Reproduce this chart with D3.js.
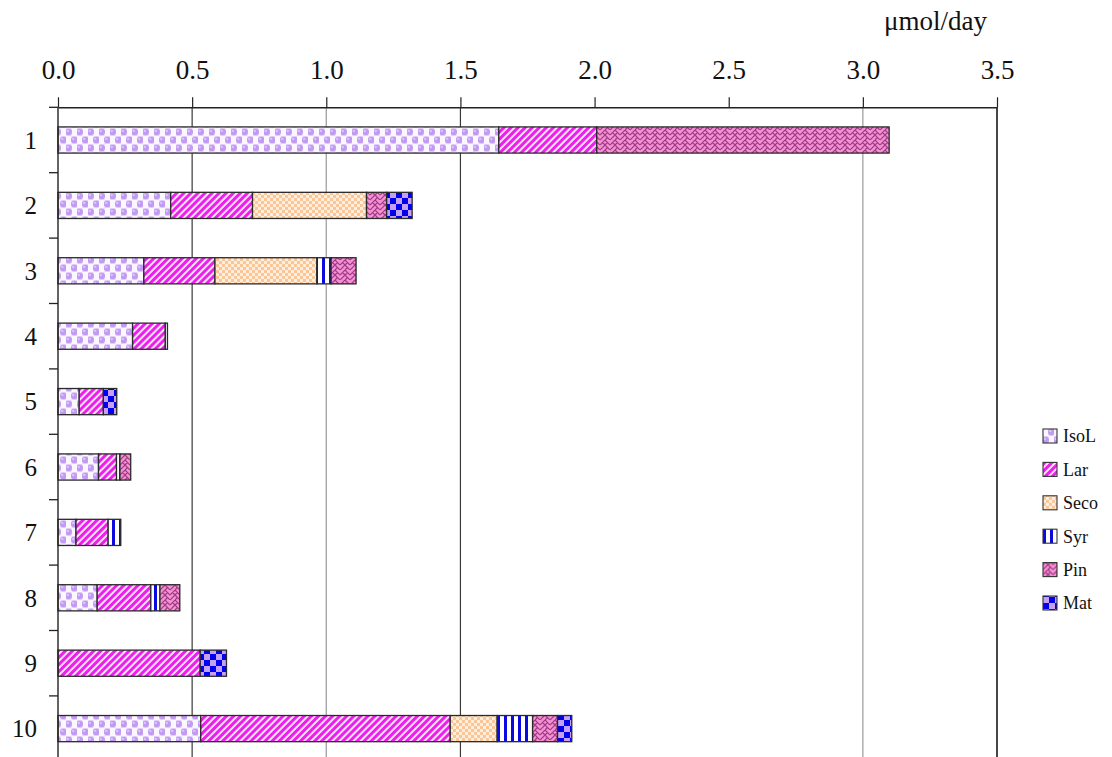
<!DOCTYPE html>
<html>
<head>
<meta charset="utf-8">
<script src="https://cdn.jsdelivr.net/npm/d3@7"></script>
<style>
  html, body { margin: 0; padding: 0; background: #fff; }
  svg { display: block; }
</style>
</head>
<body>
<svg id="chart" width="1112" height="757"></svg>
<script>
// Daily output per sample (µmol/day), one array per lignan
const samples = ["1", "2", "3", "4", "5", "6", "7", "8", "9", "10"];
const seriesNames = ["IsoL", "Lar", "Seco", "Syr", "Pin", "Mat"];
const IsoL = [1.643, 0.420, 0.320, 0.278, 0.079, 0.151, 0.067, 0.146, 0.000, 0.532];
const Lar  = [0.365, 0.305, 0.265, 0.122, 0.090, 0.067, 0.120, 0.200, 0.530, 0.930];
const Seco = [0.000, 0.425, 0.380, 0.000, 0.000, 0.000, 0.000, 0.000, 0.000, 0.175];
const Syr  = [0.000, 0.000, 0.053, 0.008, 0.000, 0.013, 0.047, 0.034, 0.000, 0.132];
const Pin  = [1.090, 0.075, 0.093, 0.000, 0.000, 0.040, 0.000, 0.074, 0.000, 0.093];
const Mat  = [0.000, 0.095, 0.000, 0.000, 0.050, 0.000, 0.000, 0.000, 0.098, 0.053];
const xTicks = [0, 0.5, 1.0, 1.5, 2.0, 2.5, 3.0, 3.5];
const gridDark = [0.5, 1.5];
const gridLight = [1.0, 3.0];
const unitLabel = "\u03bcmol/day";

const SERIF = '"Liberation Serif", "Times New Roman", "DejaVu Serif", serif';

const rows = samples.map((s, i) => ({
  sample: s, IsoL: IsoL[i], Lar: Lar[i], Seco: Seco[i], Syr: Syr[i], Pin: Pin[i], Mat: Mat[i]
}));

const svg = d3.select("#chart");
const plotLeft = 58, plotRight = 997, plotTop = 107.3, plotBottom = 761.3;

const x = d3.scaleLinear().domain([0, 3.5]).range([plotLeft, plotRight]);
const y = d3.scaleBand().domain(samples).range([plotTop, plotBottom]).paddingInner(0.6).paddingOuter(0.3);

// ---- fill patterns ----
const defs = svg.append("defs");

// IsoL: lavender pearls in a checker arrangement
const pIso = defs.append("pattern").attr("id", "p-IsoL").attr("patternUnits", "userSpaceOnUse")
  .attr("width", 11).attr("height", 16);
pIso.append("rect").attr("width", 11).attr("height", 16).attr("fill", "#fbf7ff");
[[2.75, 4], [8.25, 12]].forEach(([cx, cy]) => {
  pIso.append("rect").attr("x", cx - 2.75).attr("y", cy - 4).attr("width", 5.5).attr("height", 8).attr("fill", "#e6d5fb");
  pIso.append("circle").attr("cx", cx).attr("cy", cy).attr("r", 3.3).attr("fill", "#c29af2");
  pIso.append("circle").attr("cx", cx - 1).attr("cy", cy - 1.1).attr("r", 1.2).attr("fill", "#dcc6fa");
});

// Lar: magenta diagonal hatching
const pLar = defs.append("pattern").attr("id", "p-Lar").attr("patternUnits", "userSpaceOnUse")
  .attr("width", 5).attr("height", 5).attr("patternTransform", "rotate(45)");
pLar.append("rect").attr("width", 5).attr("height", 5).attr("fill", "#fde6fd");
pLar.append("rect").attr("width", 3).attr("height", 5).attr("fill", "#ec1fec");

// Seco: fine peach checker
const pSeco = defs.append("pattern").attr("id", "p-Seco").attr("patternUnits", "userSpaceOnUse")
  .attr("width", 6).attr("height", 6);
pSeco.append("rect").attr("width", 6).attr("height", 6).attr("fill", "#fdeedf");
pSeco.append("rect").attr("width", 3).attr("height", 3).attr("fill", "#f8c697");
pSeco.append("rect").attr("x", 3).attr("y", 3).attr("width", 3).attr("height", 3).attr("fill", "#f8c697");

// Syr: blue vertical stripes
const pSyr = defs.append("pattern").attr("id", "p-Syr").attr("patternUnits", "userSpaceOnUse")
  .attr("width", 7).attr("height", 10);
pSyr.append("rect").attr("width", 7).attr("height", 10).attr("fill", "#ffffff");
pSyr.append("rect").attr("x", 0).attr("width", 3).attr("height", 10).attr("fill", "#0a0ae0");

// Pin: pink herringbone weave
const pPin = defs.append("pattern").attr("id", "p-Pin").attr("patternUnits", "userSpaceOnUse")
  .attr("width", 10).attr("height", 10);
pPin.append("rect").attr("width", 10).attr("height", 10).attr("fill", "#f492d4");
pPin.append("path")
  .attr("d", "M0,5 L5,0 M0,10 L5,5 M-1,1 L0,0 M5,0 L10,5 M5,5 L10,10 M5,10 L6,11 M2.5,2.5 L5,5 M7.5,7.5 L5,10 M7.5,2.5 L5,5")
  .attr("stroke", "#a23a86").attr("stroke-width", 1.2).attr("fill", "none");

// Mat: blue / lavender checker
const pMat = defs.append("pattern").attr("id", "p-Mat").attr("patternUnits", "userSpaceOnUse")
  .attr("width", 12).attr("height", 12);
pMat.append("rect").attr("width", 12).attr("height", 12).attr("fill", "#c6a0f3");
pMat.append("rect").attr("width", 6).attr("height", 6).attr("fill", "#0000ee");
pMat.append("rect").attr("x", 6).attr("y", 6).attr("width", 6).attr("height", 6).attr("fill", "#0000ee");

// ---- gridlines ----
const grid = svg.append("g");
grid.selectAll("line.dark").data(gridDark).join("line").attr("class", "dark")
  .attr("x1", d => x(d)).attr("x2", d => x(d)).attr("y1", plotTop).attr("y2", plotBottom)
  .attr("stroke", "#3a3a3a").attr("stroke-width", 1.2);
grid.selectAll("line.light").data(gridLight).join("line").attr("class", "light")
  .attr("x1", d => x(d)).attr("x2", d => x(d)).attr("y1", plotTop).attr("y2", plotBottom)
  .attr("stroke", "#a8a8a8").attr("stroke-width", 1.4);

// ---- stacked bars ----
const stack = d3.stack().keys(seriesNames);
const layers = stack(rows);
svg.append("g").selectAll("g").data(layers).join("g")
  .attr("fill", d => `url(#p-${d.key})`)
  .selectAll("rect").data(d => d.filter(s => s[1] - s[0] > 0)).join("rect")
  .attr("x", d => x(d[0]))
  .attr("width", d => x(d[1]) - x(d[0]))
  .attr("y", d => y(d.data.sample))
  .attr("height", y.bandwidth())
  .attr("stroke", "#2a2a2a").attr("stroke-width", 1.3);

// ---- right frame ----
svg.append("line").attr("x1", x(3.5)).attr("x2", x(3.5)).attr("y1", plotTop).attr("y2", plotBottom)
  .attr("stroke", "#333").attr("stroke-width", 1.8);

// ---- top axis ----
const xAxis = d3.axisTop(x).tickValues(xTicks).tickFormat(d3.format(".1f"))
  .tickSize(10).tickSizeOuter(0).tickPadding(18);
const gx = svg.append("g").attr("transform", `translate(0,${plotTop})`).call(xAxis)
  .attr("font-family", null).attr("font-size", null);
gx.select(".domain").attr("stroke", "#222").attr("stroke-width", 1.4);
gx.selectAll(".tick line").attr("stroke", "#222").attr("stroke-width", 1.2);
gx.selectAll(".tick text").style("font-family", SERIF).style("font-size", "27px").attr("fill", "#111");

// ---- left axis: tick marks on band boundaries ----
const boundaries = samples.map(s => y(s) - y.step() * y.paddingOuter());
boundaries.push(plotBottom);
svg.append("line").attr("x1", plotLeft).attr("x2", plotLeft).attr("y1", plotTop).attr("y2", plotBottom)
  .attr("stroke", "#222").attr("stroke-width", 1.4);
svg.append("g").selectAll("line").data(boundaries).join("line")
  .attr("x1", plotLeft - 9).attr("x2", plotLeft).attr("y1", d => d).attr("y2", d => d)
  .attr("stroke", "#222").attr("stroke-width", 1.3);
svg.append("g").selectAll("text").data(samples).join("text")
  .attr("x", 37).attr("y", d => y(d) + y.bandwidth() / 2)
  .attr("dy", "0.35em").attr("text-anchor", "end").attr("fill", "#111")
  .style("font-family", SERIF).style("font-size", "25px").text(d => d);

// ---- unit label ----
svg.append("text").attr("x", x(3.5) - 10).attr("y", 30).attr("text-anchor", "end").attr("fill", "#111")
  .style("font-family", SERIF).style("font-size", "27px").text(unitLabel);

// ---- legend ----
const legend = svg.append("g").attr("transform", "translate(1043,436)");
const li = legend.selectAll("g").data(seriesNames).join("g")
  .attr("transform", (d, i) => `translate(0,${i * 33.4})`);
li.append("rect").attr("x", 0).attr("y", -7).attr("width", 14).attr("height", 14)
  .attr("fill", d => `url(#p-${d})`).attr("stroke", "#333").attr("stroke-width", 1.1);
li.append("text").attr("x", 20).attr("y", 0).attr("dy", "0.35em").attr("fill", "#111")
  .style("font-family", SERIF).style("font-size", "18px").text(d => d);
</script>
</body>
</html>
